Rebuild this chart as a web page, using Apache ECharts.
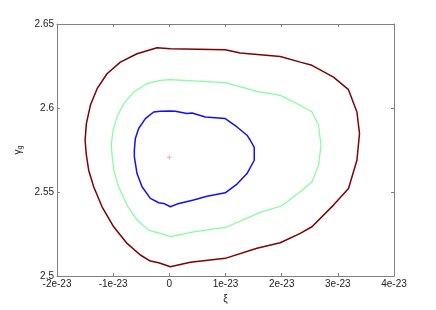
<!DOCTYPE html>
<html>
<head>
<meta charset="utf-8">
<script src="https://cdn.jsdelivr.net/npm/echarts@6/dist/echarts.min.js"></script>
<style>html,body{margin:0;padding:0;background:#fff;}#c{width:436px;height:310px;}</style>
</head>
<body>
<div id="c"></div>
<script>
// xi values in units of 1e-23
const xTicks = ['-2e-23','-1e-23','0','1e-23','2e-23','3e-23','4e-23'];
const yTicks = ['2.5','2.55','2.6','2.65'];

const outerXi = [0.018,0.996,1.263,1.975,2.331,2.539,2.923,3.19,3.34,3.386,3.34,3.19,2.923,2.539,2.331,1.975,1.56,0.996,0.374,0.018,-0.19,-0.338,-0.516,-0.753,-0.991,-1.198,-1.347,-1.436,-1.477,-1.5,-1.477,-1.406,-1.286,-1.109,-0.872,-0.575,-0.219];
const outerGamma = [2.6353,2.6347,2.6327,2.6307,2.6273,2.6254,2.6184,2.6109,2.5976,2.5848,2.5689,2.5521,2.5422,2.5293,2.5254,2.5198,2.5165,2.5105,2.5082,2.5055,2.5079,2.5089,2.5125,2.5194,2.5293,2.5412,2.5531,2.563,2.5719,2.5808,2.5907,2.6016,2.6115,2.6204,2.6273,2.6323,2.6359];

const midXi = [0.018,0.996,1.56,1.975,2.331,2.539,2.657,2.699,2.657,2.539,2.331,2.005,1.619,0.996,0.432,0.018,-0.16,-0.368,-0.575,-0.753,-0.902,-0.991,-1.02,-1.032,-1.002,-0.931,-0.813,-0.635,-0.397,-0.16];
const midGamma = [2.6169,2.6151,2.6099,2.6075,2.6016,2.5976,2.5897,2.5778,2.566,2.556,2.5501,2.5418,2.5379,2.5289,2.5263,2.5234,2.5254,2.5273,2.5333,2.5422,2.5531,2.563,2.5719,2.5788,2.5867,2.5946,2.6026,2.6095,2.6145,2.6164];

const innerXi = [0.018,0.107,0.315,0.404,0.641,0.996,1.205,1.383,1.441,1.512,1.512,1.383,1.205,0.996,0.671,0.432,0.137,0.018,-0.101,-0.19,-0.338,-0.486,-0.575,-0.623,-0.623,-0.605,-0.546,-0.427,-0.279,-0.16];
const innerGamma = [2.5982,2.598,2.5967,2.597,2.5946,2.5937,2.5887,2.5838,2.5808,2.5765,2.5689,2.561,2.5547,2.5495,2.5475,2.5452,2.5428,2.5412,2.5432,2.5436,2.5462,2.5531,2.561,2.5709,2.5749,2.5818,2.5878,2.5937,2.5976,2.598];

const markXi = [0];
const markGamma = [2.5707];

function closed(xs, ys){
  const d = xs.map((x,i)=>[x, ys[i]]);
  d.push([xs[0], ys[0]]);
  return d;
}

const chart = echarts.init(document.getElementById('c'), null, {renderer:'canvas'});
const frame = '#808080';
const font = 'Liberation Sans, Arial, sans-serif';
const xLabel = v => { const i = Math.round(v) + 2; return xTicks[i] !== undefined ? xTicks[i] : ''; };
const yLabel = v => { const i = Math.round((v - 2.5) / 0.05); return yTicks[i] !== undefined ? yTicks[i] : ''; };

chart.setOption({
  animation: false,
  backgroundColor: '#fff',
  grid: {left: 57, right: 42, top: 24, bottom: 34, containLabel: false},
  xAxis: [{
    type: 'value', min: -2, max: 4, interval: 1, position: 'bottom',
    name: 'ξ', nameLocation: 'middle', nameGap: 16,
    nameTextStyle: {color: '#222', fontSize: 10, fontFamily: font},
    axisLine: {show: true, onZero: false, lineStyle: {color: frame, width: 1}},
    axisTick: {show: true, inside: true, length: 3, lineStyle: {color: frame}},
    axisLabel: {color: '#222', fontSize: 10, fontFamily: font, margin: 3, formatter: xLabel},
    splitLine: {show: false}
  },{
    type: 'value', min: -2, max: 4, interval: 1, position: 'top',
    axisLine: {show: true, onZero: false, lineStyle: {color: frame, width: 1}},
    axisTick: {show: true, inside: true, length: 3, lineStyle: {color: frame}},
    axisLabel: {show: false}, splitLine: {show: false}
  }],
  yAxis: [{
    type: 'value', min: 2.5, max: 2.65, interval: 0.05, position: 'left',
    name: '{a|γ}{b|g}', nameLocation: 'middle', nameGap: 22, nameRotate: 90,
    nameTextStyle: {color: '#222', fontSize: 10, fontFamily: font,
      rich: {a: {fontSize: 10, fontFamily: font, color: '#222'}, b: {fontSize: 7, fontFamily: font, color: '#222', verticalAlign: 'bottom', padding: [4,0,0,0]}}},
    axisLine: {show: true, onZero: false, lineStyle: {color: frame, width: 1}},
    axisTick: {show: true, inside: true, length: 3, lineStyle: {color: frame}},
    axisLabel: {color: '#222', fontSize: 10, fontFamily: font, margin: 3, formatter: yLabel},
    splitLine: {show: false}
  },{
    type: 'value', min: 2.5, max: 2.65, interval: 0.05, position: 'right',
    axisLine: {show: true, onZero: false, lineStyle: {color: frame, width: 1}},
    axisTick: {show: true, inside: true, length: 3, lineStyle: {color: frame}},
    axisLabel: {show: false}, splitLine: {show: false}
  }],
  series: [
    {type: 'line', data: closed(outerXi, outerGamma), showSymbol: false, smooth: false,
     lineStyle: {color: '#800000', width: 1.5}, xAxisIndex: 0, yAxisIndex: 0},
    {type: 'line', data: closed(midXi, midGamma), showSymbol: false, smooth: false,
     lineStyle: {color: '#80ff9a', width: 1.2}, xAxisIndex: 0, yAxisIndex: 0},
    {type: 'line', data: closed(innerXi, innerGamma), showSymbol: false, smooth: false,
     lineStyle: {color: '#1010ff', width: 1.5}, xAxisIndex: 0, yAxisIndex: 0},
    {type: 'scatter', data: markXi.map((x,i)=>[x, markGamma[i]]),
     symbol: 'path://M2,0H3V2H5V3H3V5H2V3H0V2H2Z', symbolSize: 5,
     itemStyle: {color: '#ff9090'}, xAxisIndex: 0, yAxisIndex: 0}
  ]
});
</script>
</body>
</html>
